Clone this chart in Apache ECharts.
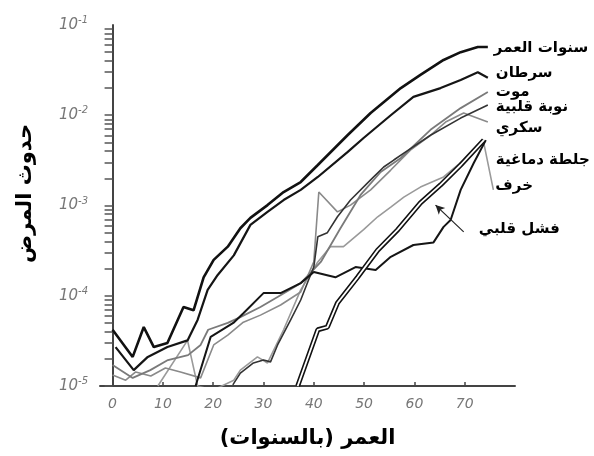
<!DOCTYPE html>
<html><head><meta charset="utf-8">
<script src="https://cdn.jsdelivr.net/npm/echarts@6/dist/echarts.min.js"></script>
<style>html,body{margin:0;padding:0;background:#fff}#c{width:594px;height:456px}</style>
</head><body><div id="c"></div>
<script>
// ---- data (age in years, incidence) ----
const xTicks = [0, 10, 20, 30, 40, 50, 60, 70];
const seriesNames = ['سنوات العمر', 'سرطان', 'موت', 'نوبة قلبية', 'سكري', 'جلطة دماغية', 'خرف', 'فشل قلبي'];

const agesLife = [0, 4, 6.2, 8.2, 10.9, 14.1, 16.1, 18.1, 20.1, 22.9, 25.4, 27.4, 30.8, 34, 37.4, 40.8, 46.7, 51.3, 57.3, 61.2, 65.8, 69.2, 72.6, 74.6];
const valsLife = [4.2e-5, 2.1e-5, 4.5e-5, 2.7e-5, 3.0e-5, 7.5e-5, 6.9e-5, 1.6e-4, 2.5e-4, 3.5e-4, 5.6e-4, 7.3e-4, 1.01e-3, 1.41e-3, 1.82e-3, 2.81e-3, 6.0e-3, 1.06e-2, 2.0e-2, 2.8e-2, 4.1e-2, 5.0e-2, 5.7e-2, 5.7e-2];

const agesCancer = [0.6, 4.2, 7, 10.9, 14.9, 16.9, 18.9, 20.9, 24.1, 27.4, 30.8, 34, 37.4, 40.8, 46.7, 49.9, 55.3, 59.8, 65.2, 69.2, 72.6, 74.6];
const valsCancer = [2.7e-5, 1.5e-5, 2.1e-5, 2.7e-5, 3.2e-5, 5.4e-5, 1.16e-4, 1.7e-4, 2.8e-4, 6.1e-4, 8.5e-4, 1.15e-3, 1.49e-3, 2.07e-3, 3.9e-3, 5.6e-3, 1.0e-2, 1.6e-2, 2.0e-2, 2.46e-2, 3.0e-2, 2.6e-2];

const agesDeath = [0, 4, 7.5, 11, 15, 17.5, 19, 22.9, 25.4, 29.4, 32.8, 37.4, 41.4, 45.3, 49.3, 53.3, 57.3, 63.2, 69.2, 74.6];
const valsDeath = [1.71e-5, 1.23e-5, 1.5e-5, 1.94e-5, 2.2e-5, 2.85e-5, 4.2e-5, 5.0e-5, 5.8e-5, 7.5e-5, 9.7e-5, 1.38e-4, 2.37e-4, 5.6e-4, 1.31e-3, 2.35e-3, 3.36e-3, 6.9e-3, 1.2e-2, 1.81e-2];

const agesHeart = [23.9, 25.4, 28, 30, 31.4, 32.8, 35.4, 37.4, 38.8, 40, 40.8, 42.7, 44.7, 47.3, 51.3, 53.9, 55.9, 57.9, 63.2, 69.2, 74.6];
const valsHeart = [1.03e-5, 1.39e-5, 1.8e-5, 1.94e-5, 1.85e-5, 2.85e-5, 5.4e-5, 8.97e-5, 1.42e-4, 2.08e-4, 4.5e-4, 5.0e-4, 7.5e-4, 1.15e-3, 1.92e-3, 2.67e-3, 3.19e-3, 3.8e-3, 6.0e-3, 9.3e-3, 1.3e-2];

const agesDiabetes = [0, 2.6, 4.6, 7.6, 10.5, 13.5, 17.5, 20.1, 22.9, 26, 29.4, 33.4, 37.4, 40, 41, 44.7, 47.3, 51.3, 55.3, 59.2, 63.2, 66.2, 69.8, 74.6];
const valsDiabetes = [1.32e-5, 1.16e-5, 1.43e-5, 1.29e-5, 1.58e-5, 1.43e-5, 1.23e-5, 2.85e-5, 3.67e-5, 5.1e-5, 6.1e-5, 7.9e-5, 1.1e-4, 2.37e-4, 1.41e-3, 8.5e-4, 1.01e-3, 1.49e-3, 2.47e-3, 4.1e-3, 6.0e-3, 8.4e-3, 1.06e-2, 8.4e-3];

const agesStroke = [36.8, 40.8, 42.7, 44.7, 48.7, 52.7, 56.7, 61.2, 65.2, 69.2, 73.8];
const valsStroke = [1.0e-5, 4.2e-5, 4.5e-5, 8.3e-5, 1.6e-4, 3.2e-4, 5.4e-4, 1.07e-3, 1.69e-3, 2.81e-3, 5.3e-3];

const agesDementia = [9, 14.9, 16.9, 20, 24.1, 25.4, 28.8, 30.8, 34, 37.4, 40.8, 43.3, 45.9, 49.9, 52.7, 55.3, 57.9, 61.2, 65.8, 69.8, 73.8, 75.7];
const valsDementia = [1.0e-5, 3.2e-5, 1.0e-5, 9.0e-6, 1.16e-5, 1.5e-5, 2.1e-5, 1.8e-5, 4.2e-5, 1.16e-4, 2.37e-4, 3.5e-4, 3.5e-4, 5.4e-4, 7.5e-4, 9.6e-4, 1.24e-3, 1.6e-3, 2.07e-3, 3.19e-3, 4.9e-3, 1.49e-3];

const agesFailure = [16.5, 19.5, 24, 26, 30, 33.4, 37.4, 40, 44.3, 48.3, 52.3, 55.3, 59.8, 63.8, 65.8, 67.2, 69.2, 71.8, 74.2];
const valsFailure = [1.0e-5, 3.5e-5, 5.0e-5, 6.4e-5, 1.07e-4, 1.07e-4, 1.38e-4, 1.83e-4, 1.6e-4, 2.08e-4, 1.93e-4, 2.7e-4, 3.65e-4, 3.9e-4, 5.8e-4, 6.9e-4, 1.49e-3, 2.96e-3, 5.3e-3];

const arrowFrom = [69.8, 5.1e-4];
const arrowTo = [64.2, 1.01e-3];

// ---- build ----
const pairs = (a, v) => a.map((x, i) => [x, v[i]]);
const yTickVals = [];
for (let e = -5; e <= -2; e++) for (let m = 1; m <= 9; m++) yTickVals.push(+(m * Math.pow(10, e)).toPrecision(3));
yTickVals.push(0.1);

const arFont = 'DejaVu Sans';
function lbl(offset, extra) {
  return Object.assign({
    show: true, formatter: '{a}', distance: 6, offset: offset,
    fontFamily: arFont, fontWeight: 'bold', fontSize: 15, color: '#000'
  }, extra || {});
}
function line(name, a, v, color, width, offset, z, extra) {
  return Object.assign({
    type: 'line', name: name, data: pairs(a, v), symbol: 'none', smooth: false,
    lineStyle: { color: color, width: width }, z: z || 2,
    endLabel: offset ? lbl(offset) : { show: false },
    emphasis: { disabled: true }, clip: true
  }, extra || {});
}

const series = [
  line(seriesNames[6], agesDementia, valsDementia, '#9a9a9a', 1.6, [-4, -4], 2),
  line(seriesNames[4], agesDiabetes, valsDiabetes, '#8a8a8a', 1.6, [2, 6], 2),
  line(seriesNames[2], agesDeath, valsDeath, '#7a7a7a', 1.8, [2, 0], 2),
  line(seriesNames[3], agesHeart, valsHeart, '#333', 1.6, [2, 2], 3),
  line(seriesNames[5], agesStroke, valsStroke, '#111', 5, [6, 20], 4),
  line('', agesStroke, valsStroke, '#fff', 1.8, null, 5),
  line(seriesNames[7], agesFailure, valsFailure, '#151515', 2, [-13, 89], 4, {
    markLine: {
      silent: true, symbol: ['none', 'arrow'], symbolSize: [7, 9],
      lineStyle: { color: '#222', width: 1.2, type: 'solid' },
      label: { show: false }, animation: false,
      data: [[{ coord: arrowFrom }, { coord: arrowTo }]]
    }
  }),
  line(seriesNames[1], agesCancer, valsCancer, '#151515', 2.2, [2, -5], 6),
  line(seriesNames[0], agesLife, valsLife, '#111', 2.6, [0, 1], 6)
];

const chart = echarts.init(document.getElementById('c'), null, { renderer: 'canvas' });
chart.setOption({
  animation: false,
  backgroundColor: '#fff',
  grid: { left: 100, right: 79, top: 25, bottom: 70 },
  xAxis: {
    type: 'value', min: -2.5, max: 80,
    name: 'العمر (بالسنوات)', nameLocation: 'middle', nameGap: 42,
    nameTextStyle: { fontFamily: arFont, fontWeight: 'bold', fontSize: 21, color: '#000' },
    axisLine: { lineStyle: { color: '#444', width: 2 } },
    axisTick: { show: true, inside: true, length: 4, customValues: xTicks, lineStyle: { color: '#444', width: 1.5 } },
    axisLabel: { customValues: xTicks, margin: 11, fontFamily: 'DejaVu Sans', fontStyle: 'italic', fontSize: 14, color: '#777' },
    splitLine: { show: false }
  },
  yAxis: {
    type: 'log', logBase: 10, min: 1e-5, max: 1e-1,
    name: 'حدوث المرض', nameLocation: 'middle', nameGap: 64, nameRotate: 90,
    nameTextStyle: { fontFamily: arFont, fontWeight: 'bold', fontSize: 21, color: '#000', padding: [0, 0, 0, 24] },
    axisLine: { show: true, lineStyle: { color: '#444', width: 2 } },
    axisTick: { show: true, inside: false, length: 8, customValues: yTickVals, lineStyle: { color: '#555', width: 1.5 } },
    axisLabel: {
      margin: 12,
      formatter: v => '{b|10}{s|' + Math.round(Math.log10(v)) + '}',
      rich: {
        b: { fontFamily: 'DejaVu Sans', fontStyle: 'italic', fontSize: 15, color: '#777' },
        s: { fontFamily: 'DejaVu Sans', fontStyle: 'italic', fontSize: 10, color: '#777', padding: [0, 0, 9, 0] }
      }
    },
    splitLine: { show: false }
  },
  series: series
});
</script></body></html>
